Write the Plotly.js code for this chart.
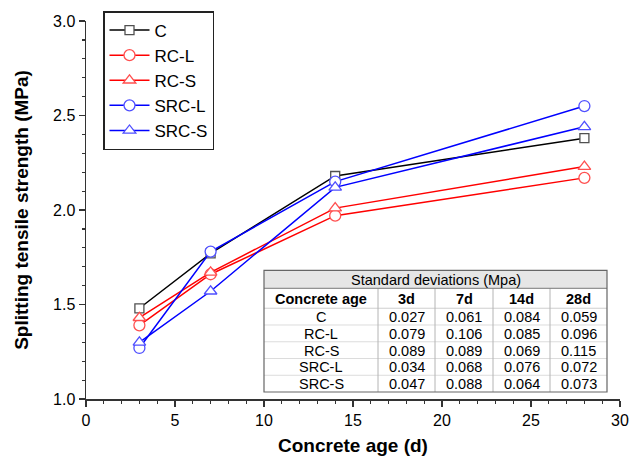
<!DOCTYPE html>
<html>
<head>
<meta charset="utf-8">
<script src="https://cdn.plot.ly/plotly-3.0.1.min.js"></script>
<style>html,body{margin:0;padding:0;background:#fff;}#chart{width:633px;height:457px;}</style>
</head>
<body>
<div id="chart"></div>
<script>
// ---- data ----
const ages = [3, 7, 14, 28];
const seriesNames = ['C', 'RC-L', 'RC-S', 'SRC-L', 'SRC-S'];
const valC    = [1.48, 1.77, 2.18, 2.38];
const valRCL  = [1.39, 1.66, 1.97, 2.17];
const valRCS  = [1.43, 1.67, 2.01, 2.23];
const valSRCL = [1.27, 1.78, 2.15, 2.55];
const valSRCS = [1.30, 1.57, 2.12, 2.44];

const tableTitle = 'Standard deviations (Mpa)';
const tableHeader = ['Concrete age', '3d', '7d', '14d', '28d'];
const sd3d  = [0.027, 0.079, 0.089, 0.034, 0.047];
const sd7d  = [0.061, 0.106, 0.089, 0.068, 0.088];
const sd14d = [0.084, 0.085, 0.069, 0.076, 0.064];
const sd28d = [0.059, 0.096, 0.115, 0.072, 0.073];

// ---- styles ----
const FONT = 'Liberation Sans, Arial, sans-serif';
const styles = [
  {line: '#000000', mk: '#505050', sym: 'square', size: 9},
  {line: '#ff0000', mk: '#ff5050', sym: 'circle', size: 11},
  {line: '#ff0000', mk: '#ff5050', sym: 'triangle-up', size: 11},
  {line: '#0000ff', mk: '#5050ff', sym: 'circle', size: 11},
  {line: '#0000ff', mk: '#5050ff', sym: 'triangle-up', size: 11}
];
const values = [valC, valRCL, valRCS, valSRCL, valSRCS];

const traces = values.map((v, i) => ({
  type: 'scatter', mode: 'lines+markers',
  x: ages, y: v, name: seriesNames[i],
  line: {color: styles[i].line, width: 1.5},
  marker: {symbol: styles[i].sym, size: styles[i].size, color: '#ffffff',
           line: {color: styles[i].mk, width: 1.3}},
  cliponaxis: false
}));

// plot area in pixels: x 86..620, y 20..399
const pl = 86, pr = 620, pt = 20, pb = 399;
const px = v => (v - pl) / (pr - pl);
const py = v => (pb - v) / (pb - pt);

// ---- table geometry (pixels) ----
const colEdges = [264, 378, 435, 493, 550, 607];
const titleTop = 270, titleBot = 288, headBot = 308, tableBot = 392;
const nRows = seriesNames.length;
const rowH = (tableBot - headBot) / nRows;
const TFS = 14.5;

const shapes = [];
const annotations = [];
const rectP = (x0, x1, y0, y1, fill, lc, lw) => ({
  type: 'rect', xref: 'paper', yref: 'paper', layer: 'above',
  x0: px(x0), x1: px(x1), y0: py(y1), y1: py(y0),
  fillcolor: fill, line: {color: lc, width: lw}
});
const lineP = (x0, y0, x1, y1, lc, lw) => ({
  type: 'line', xref: 'paper', yref: 'paper', layer: 'above',
  x0: px(x0), x1: px(x1), y0: py(y0), y1: py(y1),
  line: {color: lc, width: lw}
});
// background
shapes.push(rectP(colEdges[0], colEdges[5], titleTop, tableBot, '#ffffff', 'rgba(0,0,0,0)', 0));
shapes.push(rectP(colEdges[0], colEdges[5], titleTop, titleBot, '#e6e6e6', 'rgba(0,0,0,0)', 0));
// horizontal row lines
for (let r = 1; r < nRows; r++) {
  const y = headBot + r * rowH;
  shapes.push(lineP(colEdges[0], y, colEdges[5], y, '#dcdcdc', 1));
}
shapes.push(lineP(colEdges[0], headBot, colEdges[5], headBot, '#cfcfcf', 1));
// vertical column lines
for (let c = 1; c < colEdges.length - 1; c++) {
  shapes.push(lineP(colEdges[c], titleBot, colEdges[c], tableBot, '#b4b4b4', 1));
}
shapes.push(lineP(colEdges[0], titleBot, colEdges[5], titleBot, '#777777', 1));
// outer border
shapes.push(rectP(colEdges[0], colEdges[5], titleTop, tableBot, 'rgba(0,0,0,0)', '#666666', 1.2));

const cellAnn = (text, c, yc, bold) => ({
  xref: 'paper', yref: 'paper', showarrow: false,
  x: px((colEdges[c] + colEdges[c + 1]) / 2), y: py(yc),
  xanchor: 'center', yanchor: 'middle',
  text: bold ? '<b>' + text + '</b>' : text,
  font: {family: FONT, size: TFS, color: '#000'}
});
annotations.push({
  xref: 'paper', yref: 'paper', showarrow: false,
  x: px((colEdges[0] + colEdges[5]) / 2), y: py((titleTop + titleBot) / 2 + 0.5),
  xanchor: 'center', yanchor: 'middle', text: tableTitle,
  font: {family: FONT, size: TFS, color: '#000'}
});
tableHeader.forEach((h, c) => annotations.push(cellAnn(h, c, (titleBot + headBot) / 2 + 0.5, true)));
const sdCols = [sd3d, sd7d, sd14d, sd28d];
seriesNames.forEach((name, r) => {
  const yc = headBot + (r + 0.5) * rowH + 0.5;
  annotations.push(cellAnn(name, 0, yc, false));
  sdCols.forEach((col, c) => annotations.push(cellAnn(col[r].toFixed(3), c + 1, yc, false)));
});

const layout = {
  width: 633, height: 457,
  margin: {l: pl, r: 633 - pr, t: pt, b: 457 - pb},
  paper_bgcolor: '#ffffff', plot_bgcolor: '#ffffff',
  font: {family: FONT, size: 16, color: '#000'},
  showlegend: true,
  legend: {
    x: px(103), y: py(11), xanchor: 'left', yanchor: 'top',
    bgcolor: '#ffffff', bordercolor: '#222', borderwidth: 1.5,
    font: {family: FONT, size: 17, color: '#000'},
    itemwidth: 40, tracegroupgap: 0
  },
  xaxis: {
    range: [0, 30], dtick: 5, tick0: 0,
    showgrid: false, zeroline: false,
    showline: true, linecolor: '#333', linewidth: 1.5,
    ticks: 'outside', ticklen: 6, tickwidth: 1.5, tickcolor: '#333',
    minor: {dtick: 1, ticks: 'outside', ticklen: 3, tickwidth: 1.2, tickcolor: '#333', showgrid: false},
    tickfont: {family: FONT, size: 16, color: '#000'},
    title: {text: '<b>Concrete age (d)</b>', font: {family: FONT, size: 19, color: '#000'}, standoff: 11},
    automargin: false
  },
  yaxis: {
    range: [1.0, 3.0], dtick: 0.5, tick0: 1.0, tickformat: '.1f',
    showgrid: false, zeroline: false,
    showline: true, linecolor: '#333', linewidth: 1.5,
    ticks: 'outside', ticklen: 6, tickwidth: 1.5, tickcolor: '#333',
    minor: {dtick: 0.1, ticks: 'outside', ticklen: 3, tickwidth: 1.2, tickcolor: '#333', showgrid: false},
    tickfont: {family: FONT, size: 16, color: '#000'},
    title: {text: '<b>Splitting tensile strength (MPa)</b>', font: {family: FONT, size: 19, color: '#000'}, standoff: 19},
    automargin: false
  },
  shapes: shapes,
  annotations: annotations
};

Plotly.newPlot('chart', traces, layout, {displayModeBar: false, staticPlot: true});
</script>
</body>
</html>
